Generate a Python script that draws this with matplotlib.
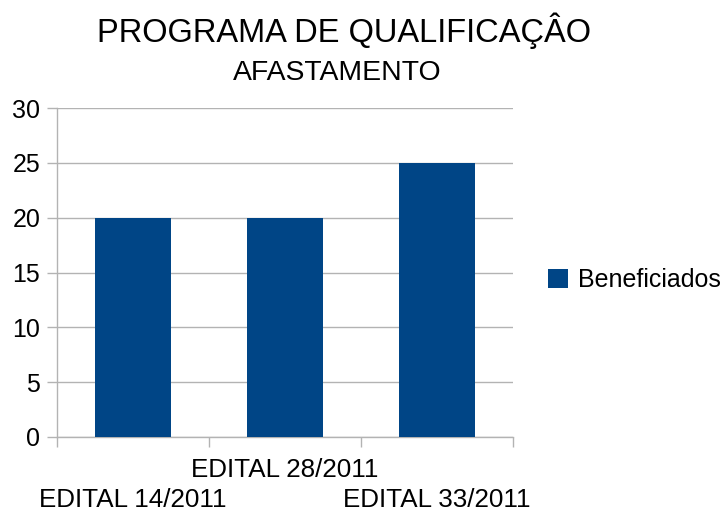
import numpy as np
import matplotlib.pyplot as plt

plt.rcParams['font.family'] = ['Liberation Sans', 'DejaVu Sans']

# Data
categories = ['EDITAL 14/2011', 'EDITAL 28/2011', 'EDITAL 33/2011']
beneficiados = [20, 20, 25]
yticks = [0, 5, 10, 15, 20, 25, 30]

grid_col = '#b3b3b3'
bar_col = '#004586'

fig = plt.figure(figsize=(7.27, 5.15), dpi=100)
ax = fig.add_axes([57/727, 1 - 437/515, (513 - 57)/727, (437 - 108)/515])

x = np.arange(len(categories))
ax.bar(x, beneficiados, width=0.5, color=bar_col, label='Beneficiados', zorder=3)

ax.set_xlim(-0.5, len(categories) - 0.5)
ax.set_ylim(0, 30)
ax.set_yticks(yticks)
ax.yaxis.grid(True, color=grid_col, linewidth=1, zorder=0)
ax.tick_params(axis='y', length=7, color=grid_col, width=1, pad=5, labelsize=18)

# category boundaries as minor ticks, labels on major ticks (staggered)
ax.set_xticks(x)
ax.set_xticklabels(categories, fontsize=18.7)
ax.set_xticks(np.arange(-0.5, len(categories), 1.0), minor=True)
ax.tick_params(axis='x', which='minor', length=7, color=grid_col, width=1)
ax.tick_params(axis='x', which='major', length=0)
for i, t in enumerate(ax.xaxis.get_major_ticks()):
    t.set_pad(15 if i % 2 == 1 else 37)

for s in ['top', 'right']:
    ax.spines[s].set_visible(False)
for s in ['left', 'bottom']:
    ax.spines[s].set_color(grid_col)
    ax.spines[s].set_linewidth(1)

fig.text(344/727, 1 - 42/515, 'PROGRAMA DE QUALIFICAÇÂO', fontsize=23.5,
         ha='center', va='baseline')
fig.text(337/727, 1 - 80/515, 'AFASTAMENTO', fontsize=20.4,
         ha='center', va='baseline')

fig.legend(loc='center left', bbox_to_anchor=(548/727, 1 - 280/515),
           frameon=False, fontsize=18, handlelength=0.78, handleheight=0.78,
           handletextpad=0.42, borderpad=0, borderaxespad=0)

fig.savefig('out.png', dpi=100)
